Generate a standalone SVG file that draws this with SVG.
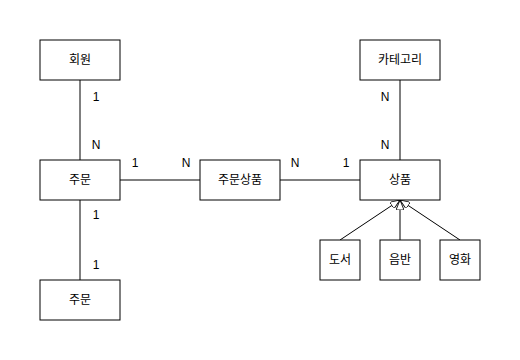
<svg xmlns="http://www.w3.org/2000/svg" width="520" height="360" viewBox="0 0 520 360">
<style>
.box{fill:#fff;stroke:#000;stroke-width:1}
.t{font-family:"Liberation Sans","Noto Sans CJK KR",sans-serif;font-size:12px;fill:#000;text-anchor:middle;dominant-baseline:central}
.c{stroke:#000;stroke-width:1;fill:none}
</style>
<defs>
<marker id="tri" viewBox="0 0 10 10" refX="10" refY="5" markerWidth="10" markerHeight="8" markerUnits="userSpaceOnUse" orient="auto" preserveAspectRatio="none">
<path d="M0,0 L10,5 L0,10 Z" fill="#fff" stroke="#000" stroke-width="1"/>
</marker>
</defs>
<rect width="520" height="360" fill="#fff"/>
<g id="connectors">
<line class="c" x1="80" y1="80" x2="80" y2="160"/>
<line class="c" x1="120" y1="180" x2="200" y2="180"/>
<line class="c" x1="280" y1="180" x2="360" y2="180"/>
<line class="c" x1="400" y1="80" x2="400" y2="160"/>
<line class="c" x1="80" y1="200" x2="80" y2="280"/>
<line class="c" x1="340" y1="240" x2="400" y2="200" marker-end="url(#tri)"/>
<line class="c" x1="400" y1="240" x2="400" y2="200" marker-end="url(#tri)"/>
<line class="c" x1="460" y1="240" x2="400" y2="200" marker-end="url(#tri)"/>
<text class="t" x="96" y="97">1</text>
<text class="t" x="96" y="145">N</text>
<text class="t" x="135" y="163">1</text>
<text class="t" x="186" y="163">N</text>
<text class="t" x="295" y="163">N</text>
<text class="t" x="346" y="163">1</text>
<text class="t" x="385" y="97">N</text>
<text class="t" x="385" y="145">N</text>
<text class="t" x="96" y="215">1</text>
<text class="t" x="96" y="265">1</text>
</g>
<g id="member"><rect class="box" x="40" y="40" width="80" height="40"/><text class="t" x="80" y="60">회원</text></g>
<g id="order"><rect class="box" x="40" y="160" width="80" height="40"/><text class="t" x="80" y="180">주문</text></g>
<g id="order2"><rect class="box" x="40" y="280" width="80" height="40"/><text class="t" x="80" y="300">주문</text></g>
<g id="orderitem"><rect class="box" x="200" y="160" width="80" height="40"/><text class="t" x="240" y="180">주문상품</text></g>
<g id="product"><rect class="box" x="360" y="160" width="80" height="40"/><text class="t" x="400" y="180">상품</text></g>
<g id="category"><rect class="box" x="360" y="40" width="80" height="40"/><text class="t" x="400" y="60">카테고리</text></g>
<g id="book"><rect class="box" x="320" y="240" width="40" height="40"/><text class="t" x="340" y="260">도서</text></g>
<g id="album"><rect class="box" x="380" y="240" width="40" height="40"/><text class="t" x="400" y="260">음반</text></g>
<g id="movie"><rect class="box" x="440" y="240" width="40" height="40"/><text class="t" x="460" y="260">영화</text></g>
</svg>
